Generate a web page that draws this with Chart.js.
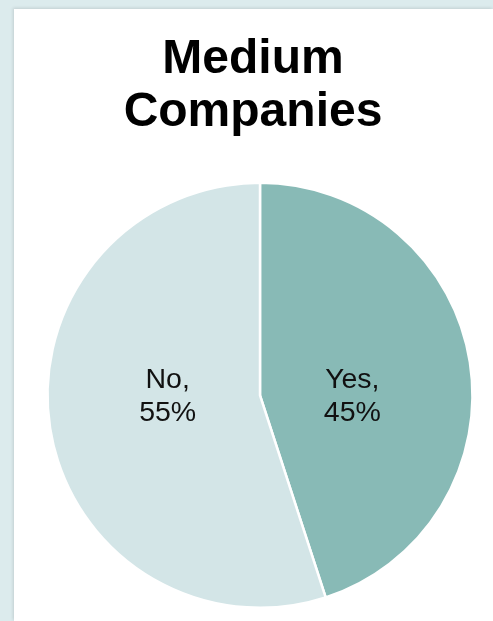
<!DOCTYPE html>
<html>
<head>
<meta charset="utf-8">
<title>Medium Companies</title>
<script src="https://cdn.jsdelivr.net/npm/chart.js@4.4.1/dist/chart.umd.min.js"></script>
<style>
  html, body { margin: 0; padding: 0; background: #dcebed; }
  body { width: 493px; height: 621px; overflow: hidden; position: relative; }
  .panel {
    position: absolute; left: 14px; top: 9px; width: 479px; height: 612px;
    background: #fff; box-shadow: -1px -1px 3px rgba(0, 0, 0, 0.12);
  }
</style>
</head>
<body>
<div class="panel"><canvas id="pieChart"></canvas></div>
<script>
// Survey answers, in drawing order (clockwise from the top)
const answerLabels = ['Yes', 'No'];
const answerShares = [45, 55];
const answerColors = ['#88bab6', '#d3e5e7'];

// Writes "Label,\nNN%" inside each slice
const sliceLabels = {
    id: 'sliceLabels',
    afterDatasetsDraw(chart) {
        const ctx = chart.ctx;
        const meta = chart.getDatasetMeta(0);
        ctx.save();
        ctx.font = '28.5px "Liberation Sans", Arial, sans-serif';
        ctx.fillStyle = '#111';
        ctx.textAlign = 'center';
        ctx.textBaseline = 'middle';
        meta.data.forEach(function(arc, i) {
            const mid = (arc.startAngle + arc.endAngle) / 2;
            const x = arc.x + Math.cos(mid) * arc.outerRadius * 0.44;
            const y = arc.y;
            ctx.fillText(answerLabels[i] + ',', x, y - 15);
            ctx.fillText(answerShares[i] + '%', x, y + 18);
        });
        ctx.restore();
    }
};

// Nudge the title a little left of the pie's centre line
const titleNudge = {
    id: 'titleNudge',
    beforeDraw(chart) {
        chart.ctx.save();
        chart.ctx.translate(-7, 0);
    },
    beforeDatasetsDraw(chart) {
        chart.ctx.restore();
    }
};

document.addEventListener('DOMContentLoaded', function() {
    const canvas = document.getElementById('pieChart');
    new Chart(canvas.getContext('2d'), {
        type: 'pie',
        data: {
            labels: answerLabels,
            datasets: [{
                data: answerShares,
                backgroundColor: answerColors,
                borderColor: '#ffffff',
                borderWidth: 2.5
            }]
        },
        options: {
            responsive: true,
            maintainAspectRatio: false,
            animation: false,
            layout: {
                padding: { left: 13, right: 0, top: 0, bottom: 12 }
            },
            plugins: {
                legend: { display: false },
                tooltip: { enabled: false },
                title: {
                    display: true,
                    text: ['Medium', 'Companies'],
                    color: '#000',
                    font: { family: '"Liberation Sans", Arial, sans-serif', size: 48, weight: 'bold', lineHeight: 1.11 },
                    padding: { top: 24, bottom: 42 }
                }
            }
        },
        plugins: [sliceLabels, titleNudge]
    });
});
</script>
</body>
</html>
